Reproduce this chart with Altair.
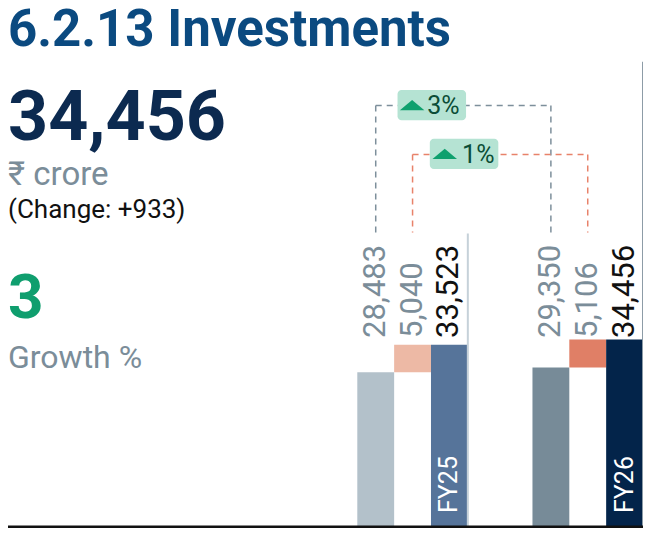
import altair as alt
import pandas as pd

# values
years = ["FY25", "FY26"]
components = ["base", "change", "total"]
base_vals = [28483, 29350]
change_vals = [5040, 5106]
total_vals = [33523, 34456]
growth_labels = ["3%", "1%"]          # base growth, change growth
headline = "34,456"
headline_change = "(Change: +933)"
headline_growth = "3"

bar_colors = {
    ("FY25", "base"): "#b3c1ca", ("FY25", "change"): "#edb9a5", ("FY25", "total"): "#56749a",
    ("FY26", "base"): "#778b98", ("FY26", "change"): "#e07f66", ("FY26", "total"): "#03244a",
}
GREY = "#7b8d99"
FONT = "Roboto"

rows = []
for i, yr in enumerate(years):
    rows.append(dict(year=yr, comp="base", start=0, end=base_vals[i], label=f"{base_vals[i]:,}"))
    rows.append(dict(year=yr, comp="change", start=base_vals[i], end=base_vals[i] + change_vals[i],
                     label=f"{change_vals[i]:,}"))
    rows.append(dict(year=yr, comp="total", start=0, end=total_vals[i], label=f"{total_vals[i]:,}"))
bars_df = pd.DataFrame(rows)
bars_df["color"] = [bar_colors[(y, c)] for y, c in zip(bars_df.year, bars_df.comp)]
bars_df["lcolor"] = [("#111111" if c == "total" else GREY) for c in bars_df.comp]

W, H = 635, 520

x_scale = alt.Scale(domain=years, range=[349.3, 635], paddingInner=0.369, paddingOuter=0)
x_enc = alt.X("year:N", axis=None, scale=x_scale)
xo_enc = alt.XOffset("comp:N", scale=alt.Scale(domain=components, paddingInner=0, paddingOuter=0))
y_scale = alt.Scale(domain=[0, 95100])

base = alt.Chart(bars_df)

bars = base.mark_bar(opacity=1).encode(
    x=x_enc, xOffset=xo_enc,
    y=alt.Y("start:Q", scale=y_scale, axis=None), y2="end:Q",
    color=alt.Color("color:N", scale=None),
)

value_labels = base.mark_text(angle=270, align="left", baseline="middle",
                              font=FONT, fontSize=31).encode(
    x=x_enc, xOffset=xo_enc, y=alt.value(330), text="label:N",
    color=alt.Color("lcolor:N", scale=None),
)

year_labels = alt.Chart(bars_df[bars_df.comp == "total"]).mark_text(
    angle=270, align="left", baseline="middle", font=FONT, fontSize=25, color="white"
).encode(x=x_enc, xOffset=xo_enc, y=alt.value(505), text="year:N")

# separators at the right edge of each year group
sep25 = alt.Chart(pd.DataFrame({"year": ["FY25"]})).mark_rule(color="#c6d1d9", strokeWidth=2).encode(
    x=alt.X("year:N", bandPosition=1, axis=None, scale=x_scale), y=alt.value(225.5), y2=alt.value(H))
sep26 = alt.Chart(pd.DataFrame({"year": ["FY26"]})).mark_rule(color="#8d9ca7", strokeWidth=2).encode(
    x=alt.X("year:N", bandPosition=1, axis=None, scale=x_scale), y=alt.value(53.7), y2=alt.value(H))

bottom = alt.Chart(pd.DataFrame({"a": [0]})).mark_rule(color="#111111", strokeWidth=3).encode(
    x=alt.value(0), x2=alt.value(W), y=alt.value(H - 1))

# dashed connectors between matching components
conn_df = pd.DataFrame({"year": years * 2, "comp": ["base", "base", "change", "change"]})
dash = [6, 5]
connectors = []
for comp, top, col in [("base", 97.6, "#7d8f9b"), ("change", 146.4, "#e8826a")]:
    d = conn_df[conn_df.comp == comp]
    connectors.append(alt.Chart(d).mark_rule(color=col, strokeDash=dash, strokeWidth=1.5).encode(
        x=x_enc, xOffset=xo_enc, y=alt.value(top), y2=alt.value(224.5)))
    connectors.append(alt.Chart(d).mark_line(color=col, strokeDash=dash, strokeWidth=1.5).encode(
        x=x_enc, xOffset=xo_enc, y=alt.value(top)))

# growth badges, placed inside the FY25 band
badges = []
for pct, ytop, ybot, bp_l, bp_r, r_off, bp_tri, bp_txt in [
    (growth_labels[0], 82.0, 112.3, 0.364, 0.984, 0, 0.496, 0.632),
    (growth_labels[1], 130.8, 161.0, 0.656, 1.0, 30.5, 0.791, 0.948),
]:
    d = pd.DataFrame({"year": ["FY25"], "pct": [pct]})
    ymid = (ytop + ybot) / 2
    badges.append(alt.Chart(d).mark_rect(cornerRadius=4, color="#b5e3d3", x2Offset=r_off).encode(
        x=alt.X("year:N", bandPosition=bp_l, axis=None, scale=x_scale),
        x2=alt.X2("year:N", bandPosition=bp_r),
        y=alt.value(ytop), y2=alt.value(ybot)))
    badges.append(alt.Chart(d).mark_point(shape="M-1,0.42L1,0.42L0,-0.42Z", size=600, filled=True,
                                          opacity=1, color="#0fa06e").encode(
        x=alt.X("year:N", bandPosition=bp_tri, axis=None, scale=x_scale), y=alt.value(ymid)))
    badges.append(alt.Chart(d).mark_text(align="left", baseline="middle", font=FONT, fontSize=25,
                                         color="#0b4d36").encode(
        x=alt.X("year:N", bandPosition=bp_txt, axis=None, scale=x_scale),
        y=alt.value(ymid + 1), text="pct:N"))


def left_text(txt, y, size, color, weight="normal", baseline="alphabetic"):
    return alt.Chart(pd.DataFrame({"t": [txt]})).mark_text(
        align="left", baseline=baseline, font=FONT, fontSize=size, fontWeight=weight, color=color
    ).encode(x=alt.value(0), y=alt.value(y), text="t:N")


texts = [
    left_text("6.2.13 Investments", 38, 51, "#0b4a80", "bold"),
    left_text(headline, 131.8, 70, "#0c2a50", "bold"),
    left_text("₹ crore", 176.7, 33, GREY),
    left_text(headline_change, 209.8, 26, "#111111"),
    left_text(headline_growth, 310.4, 62, "#0f9e6e", "bold"),
    left_text("Growth %", 360.0, 32, GREY),
]

chart = alt.layer(
    bars, sep25, sep26, *connectors, *badges, value_labels, year_labels, bottom, *texts
).properties(
    width=W, height=H, padding=0, autosize=alt.AutoSizeParams(type="none")
).configure_view(stroke=None)

chart.save("out.html", embed_options={"renderer": "svg", "actions": False})
